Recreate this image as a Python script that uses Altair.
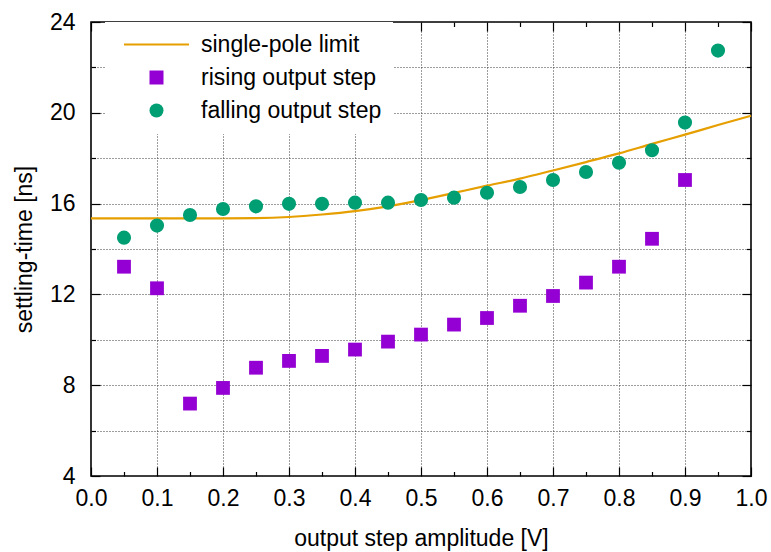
import altair as alt
import pandas as pd

# ---- data ----
pts_x = [0.05, 0.10, 0.15, 0.20, 0.25, 0.30, 0.35, 0.40, 0.45, 0.50,
         0.55, 0.60, 0.65, 0.70, 0.75, 0.80, 0.85, 0.90, 0.95]
rising_y = [13.22, 12.27, 7.19, 7.88, 8.77, 9.07, 9.29, 9.57, 9.92, 10.23,
            10.67, 10.96, 11.50, 11.93, 12.52, 13.22, 14.45, 17.04]
falling_y = [14.50, 15.03, 15.50, 15.76, 15.88, 15.99, 15.99, 16.04, 16.04, 16.16,
             16.26, 16.48, 16.73, 17.04, 17.39, 17.80, 18.35, 19.57, 22.74]

limit_x = [0.00, 0.05, 0.10, 0.15, 0.20, 0.25, 0.30, 0.35, 0.40, 0.45, 0.50,
           0.55, 0.60, 0.65, 0.70, 0.75, 0.80, 0.85, 0.90, 0.95, 1.00]
limit_y = [15.35, 15.35, 15.35, 15.35, 15.35, 15.36, 15.41, 15.52, 15.67, 15.88, 16.15,
           16.47, 16.79, 17.10, 17.46, 17.83, 18.21, 18.63, 19.04, 19.46, 19.87]

series_names = ["single-pole limit", "rising output step", "falling output step"]
series_colors = ["#E69F00", "#9400D3", "#009E73"]
x_major = [0.0, 0.1, 0.2, 0.3, 0.4, 0.5, 0.6, 0.7, 0.8, 0.9, 1.0]
x_minor = [0.05, 0.15, 0.25, 0.35, 0.45, 0.55, 0.65, 0.75, 0.85, 0.95]
y_major = [4, 8, 12, 16, 20, 24]
y_minor = [6, 10, 14, 18, 22]
y_grid = [4, 6, 8, 10, 12, 14, 16, 18, 20, 22, 24]

rising = pd.DataFrame({"x": pts_x[:len(rising_y)], "y": rising_y, "series": series_names[1]})
falling = pd.DataFrame({"x": pts_x, "y": falling_y, "series": series_names[2]})
limit = pd.DataFrame({"x": limit_x, "y": limit_y})

FONT = "Liberation Sans"
FS = 23
GRID = "#3a3a3a"
xscale = alt.Scale(domain=[0, 1], nice=False, zero=False)
yscale = alt.Scale(domain=[4, 24], nice=False, zero=False)

line_path = "M-4.65,-0.15H4.65V0.15H-4.65Z"
color_scale = alt.Scale(domain=series_names, range=series_colors)
shape_scale = alt.Scale(domain=series_names, range=[line_path, "square", "circle"])

# the key box of the original is blank up to about x = 0.58; pad the labels so the
# legend's white background covers the same area
legend = alt.Legend(
    title=None, orient="none", legendX=14, legendY=0, padding=11,
    fillColor="white", symbolSize=196, symbolOffset=29, labelOffset=33,
    rowPadding=9, labelFont=FONT, labelFontSize=FS, labelColor="black",
    symbolStrokeWidth=0, labelLimit=500,
    labelExpr="datum.label + '\u00a0\u00a0\u00a0\u00a0\u00a0\u00a0\u00a0\u00a0\u00a0\u00a0\u00a0\u00a0\u00a0'",
)


def tick_axis(orient, values, size):
    return alt.Axis(orient=orient, values=values, offset=-size, tickSize=size,
                    tickColor="black", tickWidth=1.2, labels=False, domain=False,
                    grid=False, title=None)


main_x = alt.Axis(orient="bottom", values=x_major, format=".1f", ticks=False, tickSize=0,
                  domain=False, grid=True, gridDash=[1, 2], gridColor=GRID,
                  gridWidth=1, labelFont=FONT, labelFontSize=FS, labelColor="black",
                  labelPadding=11, title="output step amplitude [V]", titleFont=FONT,
                  titleFontSize=FS, titleFontWeight="normal", titleColor="black",
                  titlePadding=17, labelFlush=False)
main_y = alt.Axis(orient="left", values=y_grid,
                  labelExpr="datum.value % 4 === 0 ? datum.label : ''",
                  ticks=False, tickSize=0, domain=False, grid=True, gridDash=[1, 2],
                  gridColor=GRID, gridWidth=1, labelFont=FONT, labelFontSize=FS,
                  labelColor="black", labelPadding=16, title="settling-time [ns]",
                  titleFont=FONT, titleFontSize=FS, titleFontWeight="normal",
                  titleColor="black", titlePadding=13, labelFlush=False)

line_layer = alt.Chart(limit).mark_line(color=series_colors[0], strokeWidth=2.2,
                                        interpolate="monotone").encode(
    x=alt.X("x:Q", scale=xscale, axis=main_x),
    y=alt.Y("y:Q", scale=yscale, axis=main_y),
)

rising_layer = alt.Chart(rising).mark_point(filled=True, size=190, opacity=1).encode(
    x=alt.X("x:Q", scale=xscale, axis=tick_axis("bottom", x_major, 9)),
    y=alt.Y("y:Q", scale=yscale, axis=tick_axis("left", y_major, 9)),
    color=alt.Color("series:N", scale=color_scale, legend=legend),
    shape=alt.Shape("series:N", scale=shape_scale, legend=legend),
)

falling_layer = alt.Chart(falling).mark_point(filled=True, size=200, opacity=1).encode(
    x=alt.X("x:Q", scale=xscale, axis=tick_axis("top", x_major, 9)),
    y=alt.Y("y:Q", scale=yscale, axis=tick_axis("right", y_major, 9)),
    color=alt.Color("series:N", scale=color_scale, legend=legend),
    shape=alt.Shape("series:N", scale=shape_scale, legend=legend),
)

minor_a = alt.Chart(limit).mark_point(opacity=0).encode(
    x=alt.X("x:Q", scale=xscale, axis=tick_axis("bottom", x_minor, 4.5)),
    y=alt.Y("y:Q", scale=yscale, axis=tick_axis("left", y_minor, 4.5)),
)
minor_b = alt.Chart(limit).mark_point(opacity=0).encode(
    x=alt.X("x:Q", scale=xscale, axis=tick_axis("top", x_minor, 4.5)),
    y=alt.Y("y:Q", scale=yscale, axis=tick_axis("right", y_minor, 4.5)),
)

chart = alt.layer(line_layer, minor_a, minor_b, rising_layer, falling_layer).resolve_axis(
    x="independent", y="independent"
).properties(
    width=660, height=454, autosize="none",
    padding={"left": 91, "top": 22, "right": 20, "bottom": 76},
    background="white",
).configure_view(stroke="black", strokeWidth=1.6)

chart.save("out.html", embed_options={"renderer": "svg", "actions": False})
